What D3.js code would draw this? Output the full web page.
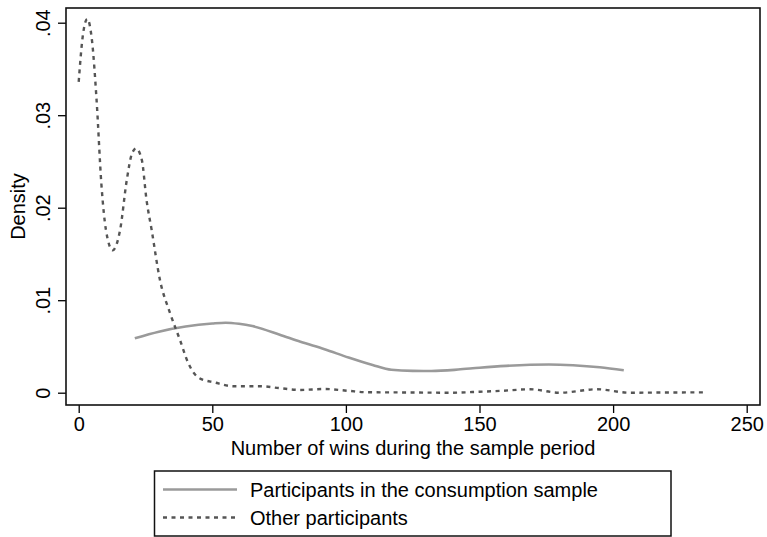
<!DOCTYPE html>
<html>
<head>
<meta charset="utf-8">
<script src="https://cdn.jsdelivr.net/npm/d3@7"></script>
<style>
  body { margin: 0; background: #fff; }
  text { font-family: "Liberation Sans", Arial, sans-serif; }
</style>
</head>
<body>
<div id="graphic"></div>
<script>
// series
const consumptionX = [21, 30, 40, 50, 55, 60, 65, 75, 83, 92, 101, 110, 117, 125, 132, 142, 150, 160, 176, 185, 195, 204];
const consumptionY = [.00588, .0066, .00715, .00748, .00757, .00745, .0072, .0063, .0055, .0047, .0038, .0030, .00248, .00236, .00235, .0025, .0027, .0029, .00305, .00297, .00275, .00242];

const otherX = [0, 1.5, 3.2, 5, 6.7, 8.5, 10.2, 12.7, 15.5, 18, 20, 21.5, 23.6, 25.4, 27.3, 30.4, 34.2, 37.9, 41, 45, 51, 58, 68, 75, 83, 92, 101, 108, 120, 139, 150, 158, 169, 180, 194, 206, 220, 235];
const otherY = [.0336, .0385, .0404, .038, .0316, .0225, .0176, .0154, .0176, .023, .0259, .0264, .0252, .0208, .0176, .0122, .0086, .0057, .0032, .0016, .0011, .0007, .0007, .0005, .0003, .0004, .0002, .00005, .00003, 0, .0001, .0002, .00037, 0, .00037, 0, .00002, .00004];

const xTicks = [0, 50, 100, 150, 200, 250];
const yTicks = [0, .01, .02, .03, .04];
const yTickLabels = ["0", ".01", ".02", ".03", ".04"];
const seriesNames = ["Participants in the consumption sample", "Other participants"];

const W = 767, H = 537;
const frame = {left: 66, right: 760, top: 8, bottom: 405};

const svg = d3.select("#graphic")
    .append("svg")
    .attr("width", W)
    .attr("height", H);

const x = d3.scaleLinear().domain([0, 250]).range([78.7, 746.7]);
const y = d3.scaleLinear().domain([0, .04]).range([392.7, 22.7]);

// axes
const xAxis = svg.append("g")
    .attr("transform", `translate(0, ${frame.bottom})`)
    .call(d3.axisBottom(x).tickValues(xTicks).tickSize(8).tickPadding(4).tickFormat(d3.format("d")));
xAxis.select(".domain").remove();
xAxis.selectAll("line").attr("stroke", "#000").attr("stroke-width", 1.3);
xAxis.selectAll("text").attr("font-size", 20).attr("fill", "#000");

const yAxis = svg.append("g")
    .attr("transform", `translate(${frame.left}, 0)`)
    .call(d3.axisLeft(y).tickValues(yTicks).tickSize(8).tickFormat((d, i) => yTickLabels[i]));
yAxis.select(".domain").remove();
yAxis.selectAll("line").attr("stroke", "#000").attr("stroke-width", 1.3);
yAxis.selectAll("text")
    .attr("font-size", 20)
    .attr("fill", "#000")
    .attr("x", null).attr("dy", null)
    .attr("text-anchor", "middle")
    .attr("transform", "translate(-16, 0) rotate(-90)");

// plot frame
svg.append("rect")
    .attr("x", frame.left).attr("y", frame.top)
    .attr("width", frame.right - frame.left)
    .attr("height", frame.bottom - frame.top)
    .attr("fill", "none")
    .attr("stroke", "#111")
    .attr("stroke-width", 1.6);

// axis titles
svg.append("text")
    .attr("x", (frame.left + frame.right) / 2)
    .attr("y", 455)
    .attr("text-anchor", "middle")
    .attr("font-size", 20)
    .text("Number of wins during the sample period");

svg.append("text")
    .attr("transform", `translate(25, ${(frame.top + frame.bottom) / 2}) rotate(-90)`)
    .attr("text-anchor", "middle")
    .attr("font-size", 20)
    .text("Density");

// curves
const line = d3.line()
    .x(d => x(d[0]))
    .y(d => y(d[1]))
    .curve(d3.curveMonotoneX);

const styles = [
    {stroke: "#9a9a9a", width: 2.6, dash: null},
    {stroke: "#555", width: 2.4, dash: "4,4.5"}
];

svg.append("path")
    .datum(d3.zip(consumptionX, consumptionY))
    .attr("fill", "none")
    .attr("stroke", styles[0].stroke)
    .attr("stroke-width", styles[0].width)
    .attr("d", line);

svg.append("path")
    .datum(d3.zip(otherX, otherY))
    .attr("fill", "none")
    .attr("stroke", styles[1].stroke)
    .attr("stroke-width", styles[1].width)
    .attr("stroke-dasharray", styles[1].dash)
    .attr("d", line);

// legend
const legend = svg.append("g");
legend.append("rect")
    .attr("x", 154.5).attr("y", 471)
    .attr("width", 516.5).attr("height", 65)
    .attr("fill", "none")
    .attr("stroke", "#111")
    .attr("stroke-width", 1.5);

seriesNames.forEach((name, i) => {
    const ly = 489.5 + i * 28;
    legend.append("line")
        .attr("x1", 163).attr("x2", 237)
        .attr("y1", ly).attr("y2", ly)
        .attr("stroke", styles[i].stroke)
        .attr("stroke-width", styles[i].width)
        .attr("stroke-dasharray", styles[i].dash);
    legend.append("text")
        .attr("x", 250)
        .attr("y", ly + 7)
        .attr("font-size", 20)
        .text(name);
});
</script>
</body>
</html>
